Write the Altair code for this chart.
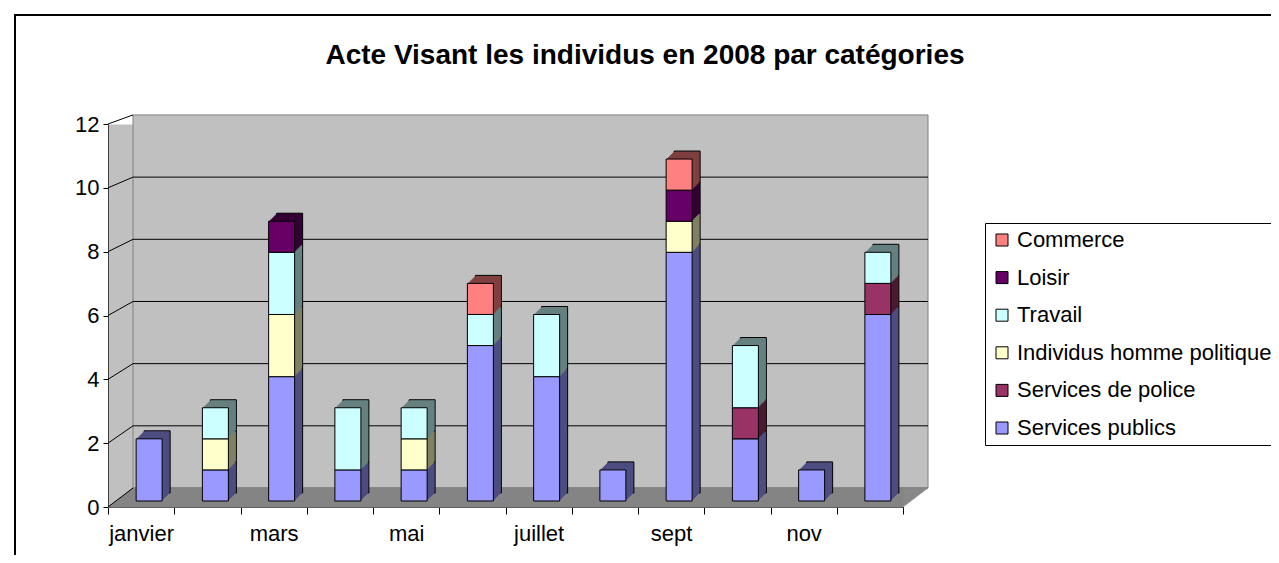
import json
import altair as alt
import pandas as pd

# ---------------- data ----------------
months = ["janvier", "février", "mars", "avril", "mai", "juin",
          "juillet", "août", "sept", "oct", "nov", "déc"]
categories = ["Services publics", "Services de police", "Individus homme politique",
              "Travail", "Loisir", "Commerce"]
services_publics = [2, 1, 4, 1, 1, 5, 4, 1, 8, 2, 1, 6]
services_police = [0, 0, 0, 0, 0, 0, 0, 0, 0, 1, 0, 1]
individus_hp = [0, 1, 2, 0, 1, 0, 0, 0, 1, 0, 0, 0]
travail = [0, 1, 2, 2, 1, 1, 2, 0, 0, 2, 0, 1]
loisir = [0, 0, 1, 0, 0, 0, 0, 0, 1, 0, 0, 0]
commerce = [0, 0, 0, 0, 0, 1, 0, 0, 1, 0, 0, 0]
series = [services_publics, services_police, individus_hp, travail, loisir, commerce]
y_ticks = [0, 2, 4, 6, 8, 10, 12]
title_text = "Acte Visant les individus en 2008 par catégories"

front_colors = ["#9999FF", "#993366", "#FFFFCC", "#CCFFFF", "#660066", "#FF8080"]
side_colors = ["#4D4D80", "#4D1A33", "#808066", "#668080", "#330033", "#804040"]

rows = []
for ci, (cat, vals) in enumerate(zip(categories, series)):
    for m, v in zip(months, vals):
        if v > 0:
            rows.append({"month": m, "category": cat, "rank": ci,
                         "value": v, "side": side_colors[ci]})
df = pd.DataFrame(rows)
ticks_df = pd.DataFrame({"v": y_ticks})
grid_df = pd.DataFrame({"v": [t for t in y_ticks if 0 < t < 12]})
one = pd.DataFrame({"a": [0]})

legend_order = categories[::-1]
legend_colors = front_colors[::-1]

W, H = 795, 383
DX, DY = 25, 19   # wall depth (floor / back wall)
BD = 8            # bar depth
BX, BY = 8, 6     # bar position inside the depth
FONT = "Liberation Sans"
FRONT_MAX = 12
BACK_MAX = 12.32  # back-plane scale (perspective)

front_scale = alt.Scale(domain=[0, FRONT_MAX], nice=False)
back_scale = alt.Scale(domain=[0, BACK_MAX], nice=False)

# ---------------- front plane: axis, frame, title ----------------
axis_layer = alt.Chart(ticks_df).mark_rule(strokeOpacity=0).encode(
    x=alt.value(0), x2=alt.value(1),
    y=alt.Y("v:Q", scale=front_scale,
            axis=alt.Axis(values=y_ticks, title=None, grid=False, tickSize=5,
                          tickColor="black", domainColor="#404040",
                          labelFontSize=22, labelFont=FONT, labelColor="black",
                          labelPadding=4)))

frame = alt.Chart(one).mark_rect(fillOpacity=0, stroke="black", strokeWidth=2).encode(
    x=alt.value(-93), x2=alt.value(1300), y=alt.value(-109), y2=alt.value(700))

title = alt.Chart(one).mark_text(
    fontSize=28, fontWeight="bold", font=FONT, color="black",
    align="center", baseline="middle"
).encode(x=alt.value(537), y=alt.value(-68), text=alt.value(title_text))

front_group = alt.layer(axis_layer, frame, title)

# ---------------- depth plane: walls, floor, grid, bars ----------------
back_wall = alt.Chart(one).mark_rect(
    fill="#c0c0c0", stroke="#808080", strokeWidth=1,
    xOffset=DX, x2Offset=DX, yOffset=-DY, y2Offset=-DY
).encode(x=alt.value(0), x2=alt.value(W),
         y=alt.Y(datum=0, scale=back_scale, axis=None), y2=alt.Y2(datum=12))

floor_layers = []
for k in range(DY + 1):
    floor_layers.append(
        alt.Chart(one).mark_rule(color="#808080", strokeWidth=1.3,
                                 yOffset=-k, xOffset=DX * k / DY, x2Offset=DX * k / DY)
        .encode(x=alt.value(0), x2=alt.value(W), y=alt.Y(datum=0))
    )

grid = alt.Chart(grid_df).mark_rule(color="black", strokeWidth=1, yOffset=-DY).encode(
    x=alt.value(DX), x2=alt.value(W + DX), y=alt.Y("v:Q"))

# connectors: back end on the back plane, front end at the front-axis tick
connectors = alt.Chart(ticks_df).transform_calculate(
    vf=f"datum.v * {BACK_MAX} / {FRONT_MAX}"
).mark_rule(color="black", strokeWidth=1, yOffset=-DY).encode(
    x=alt.value(DX), x2=alt.value(0), y=alt.Y("v:Q"), y2="vf:Q")

shown = [m for i, m in enumerate(months) if i % 2 == 0]
label_expr = "indexof(" + json.dumps(shown) + ", datum.value) >= 0 ? datum.label : ''"

x_enc = alt.X("month:N", sort=months,
              scale=alt.Scale(paddingInner=0, paddingOuter=0),
              axis=alt.Axis(title=None, tickBand="extent", tickSize=7,
                            tickColor="black", domainColor="black",
                            labelExpr=label_expr, labelAngle=0,
                            labelFontSize=22, labelFont=FONT,
                            labelColor="black", labelPadding=9))

base = alt.Chart(df).transform_stack(
    stack="value", groupby=["month"], as_=["y0", "y1"],
    sort=[alt.SortField("rank", order="ascending")])

bar_layers = []
for i in range(BD, 0, -1):
    kw = dict(size=26, xOffset=BX + i, x2Offset=BX + i,
              yOffset=-BY - i, y2Offset=-BY - i)
    if i == BD:
        kw.update(stroke="black", strokeWidth=1)
    else:
        kw.update(strokeWidth=0)
    bar_layers.append(
        base.mark_bar(**kw).encode(
            x=x_enc, y=alt.Y("y0:Q"), y2="y1:Q",
            color=alt.Color("side:N", scale=None))
    )

front = base.mark_bar(size=26, stroke="black", strokeWidth=1,
                      xOffset=BX, x2Offset=BX, yOffset=-BY, y2Offset=-BY).encode(
    x=x_enc,
    y=alt.Y("y0:Q"),
    y2="y1:Q",
    color=alt.Color("category:N",
                    scale=alt.Scale(domain=legend_order, range=legend_colors),
                    legend=alt.Legend(orient="none", legendX=877, legendY=99,
                                      title=None, labelFontSize=22, labelFont=FONT,
                                      labelColor="black", symbolType="square",
                                      symbolSize=144, symbolStrokeColor="black",
                                      symbolStrokeWidth=1, rowPadding=15.6,
                                      padding=6, strokeColor="black",
                                      fillColor="white", labelLimit=500,
                                      labelOffset=4)),
    tooltip=["month:N", "category:N", "value:Q"])

depth_group = alt.layer(back_wall, *floor_layers, grid, connectors, *bar_layers, front)

chart = alt.layer(front_group, depth_group).resolve_scale(y="independent").properties(
    width=W, height=H,
    autosize=alt.AutoSizeParams(type="none"),
    padding={"left": 100, "top": 116, "right": 368, "bottom": 48},
    background="white"
).configure_view(fill="#c0c0c0", stroke="transparent")

chart.save("out.html", embed_options={"renderer": "svg", "actions": False})
